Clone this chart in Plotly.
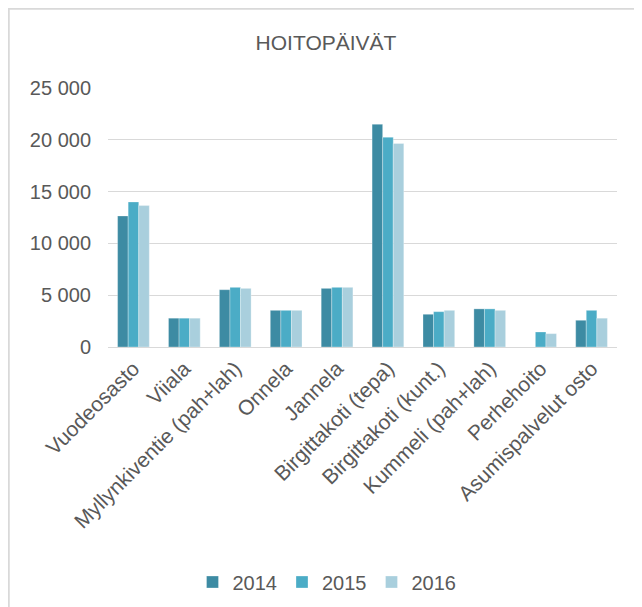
import plotly.graph_objects as go

categories = ["Vuodeosasto", "Viiala", "Myllynkiventie (pah+lah)", "Onnela", "Jannela",
              "Birgittakoti (tepa)", "Birgittakoti (kunt.)", "Kummeli (pah+lah)",
              "Perhehoito", "Asumispalvelut osto"]
years = ["2014", "2015", "2016"]
v2014 = [12650, 2780, 5530, 3540, 5660, 21500, 3160, 3680, None, 2580]
v2015 = [14000, 2780, 5760, 3540, 5760, 20250, 3410, 3680, 1450, 3540]
v2016 = [13650, 2780, 5660, 3540, 5760, 19650, 3540, 3540, 1290, 2780]
colors = ["#3d8ba3", "#4bacc6", "#a9cfdd"]
y_ticks = [0, 5000, 10000, 15000, 20000, 25000]

OFF = 8  # page body margin
W, H = 642 - OFF, 607 - OFF
# page-pixel positions of the plot area
PL, PR, PT, PB = 108, 617, 88, 347
ML, MR, MT, MB = PL - OFF, W - (PR - OFF), PT - OFF, H - (PB - OFF)
PW, PH = W - ML - MR, H - MT - MB

def px_x(px):
    return (px - PL) / PW

def px_y(py):
    return (PB - py) / PH

fig = go.Figure()
for name, vals, col in zip(years, [v2014, v2015, v2016], colors):
    fig.add_trace(go.Bar(x=categories, y=vals, name=name,
                         marker=dict(color=col, line=dict(color="rgba(255,255,255,0.6)", width=0.5))))

font_family = "Liberation Sans, Arial, sans-serif"
fig.update_layout(
    width=W, height=H,
    margin=dict(l=ML, r=MR, t=MT, b=MB, autoexpand=False),
    paper_bgcolor="white", plot_bgcolor="white",
    barmode="group", bargap=0.377, bargroupgap=0,
    separators=", ",
    font=dict(family=font_family, color="#595959", size=20),
    title=dict(text="HOITOPÄIVÄT", xref="container", x=(326 - OFF) / W, xanchor="center",
               yref="container", y=1 - (43 - OFF) / H, yanchor="middle",
               font=dict(size=21, color="#595959", family=font_family)),
    showlegend=True,
    legend=dict(orientation="h", x=px_x(327), xanchor="center", y=px_y(582), yanchor="middle",
                font=dict(size=20, color="#595959"), itemwidth=30, traceorder="normal",
                bgcolor="rgba(0,0,0,0)"),
    xaxis=dict(tickangle=-45, tickfont=dict(size=21, color="#595959"),
               showline=True, linecolor="#d9d9d9", linewidth=1, showgrid=False,
               ticks="", automargin=False),
    yaxis=dict(range=[0, 25000], tickvals=y_ticks, tickformat=",d",
               tickfont=dict(size=20, color="#595959"),
               showgrid=True, gridcolor="#d9d9d9", gridwidth=1,
               zeroline=True, zerolinecolor="#d9d9d9", zerolinewidth=1,
               showline=False, ticks="", ticklabelstandoff=16, automargin=False),
    shapes=[
        dict(type="line", xref="paper", yref="paper", x0=px_x(8.5), x1=px_x(8.5),
             y0=px_y(8), y1=px_y(640), line=dict(color="#d9d9d9", width=2.5)),
        dict(type="line", xref="paper", yref="paper", x0=px_x(8), x1=px_x(680),
             y0=px_y(8.5), y1=px_y(8.5), line=dict(color="#d9d9d9", width=2.5)),
    ],
)

fig.write_html("out.html")
